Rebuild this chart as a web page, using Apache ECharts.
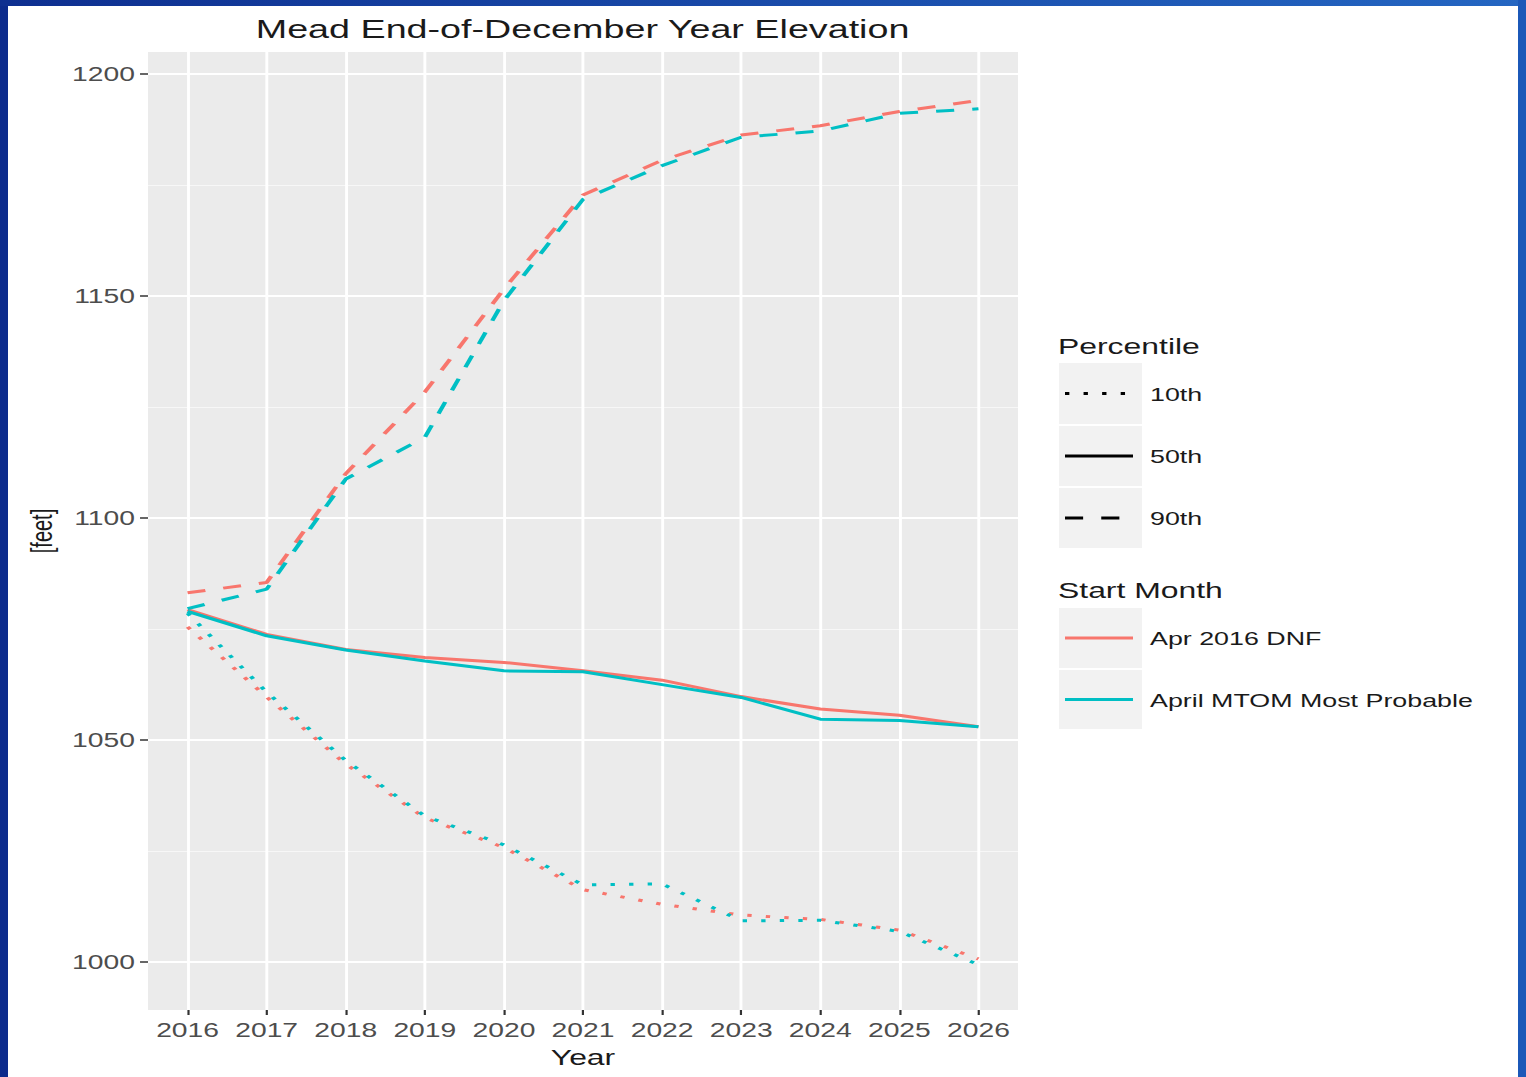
<!DOCTYPE html>
<html><head><meta charset="utf-8">
<script src="https://cdn.jsdelivr.net/npm/echarts@6/dist/echarts.min.js"></script>
<style>
html,body{margin:0;padding:0;width:1526px;height:1077px;overflow:hidden;background:#fff;}
#chart{position:absolute;left:0;top:0;height:1077px;transform-origin:0 0;}
.fr{position:absolute;z-index:5;}
</style></head><body>
<div id="chart"></div>
<div class="fr" style="left:0;top:0;width:8px;height:1077px;background:#0c2b8c"></div>
<div class="fr" style="left:0;top:0;width:1526px;height:6px;background:linear-gradient(90deg,#0e2f90,#2466c2)"></div>
<div class="fr" style="right:0;top:0;width:8px;height:1077px;background:#1b58b8"></div>
<script>
// ---------- data ----------
const titleText = 'Mead End-of-December Year Elevation';
const years = [2016, 2017, 2018, 2019, 2020, 2021, 2022, 2023, 2024, 2025, 2026];
const yTicks = [1000, 1050, 1100, 1150, 1200];
const yMinorTicks = [1025, 1075, 1125, 1175];
const percentileLabels = ['10th', '50th', '90th'];
const startMonths = ['Apr 2016 DNF', 'April MTOM Most Probable'];

const dnf10  = [1075.5, 1059.7, 1044.6, 1032.5, 1025.8, 1016.3, 1013.0, 1010.6, 1009.6, 1007.2, 1000.7];
const mtom10 = [1078.6, 1060.8, 1045.4, 1032.9, 1026.4, 1017.4, 1017.6, 1009.3, 1009.4, 1006.9, 999.4];
const dnf50  = [1079.4, 1073.8, 1070.4, 1068.6, 1067.5, 1065.6, 1063.5, 1059.8, 1057.0, 1055.6, 1053.0];
const mtom50 = [1079.0, 1073.5, 1070.3, 1067.8, 1065.6, 1065.4, 1062.5, 1059.6, 1054.7, 1054.4, 1053.0];
const dnf90  = [1083.2, 1085.5, 1110.0, 1128.4, 1151.6, 1172.8, 1180.6, 1186.3, 1188.4, 1191.6, 1194.1];
const mtom90 = [1079.6, 1084.0, 1108.8, 1118.2, 1149.0, 1171.8, 1179.4, 1185.8, 1187.2, 1191.2, 1192.2];

// ---------- layout (reference image is stretched horizontally) ----------
const S = 1.45;
const W = 1526 / S;
const X = v => v / S;
const FONT = "'Liberation Sans', Arial, sans-serif";
const RED = '#F8766D', CYAN = '#00BFC4';
const el = document.getElementById('chart');
el.style.width = W + 'px';
el.style.transform = 'scaleX(' + S + ')';
const chart = echarts.init(el, null, {renderer: 'svg', width: W, height: 1077});

const pair = arr => years.map((y, i) => [y, arr[i]]);
const dashT = [12.5, 12.5];
const dotT = [3, 9.8];

function mk(name, arr, color, type) {
  return {
    name: name, type: 'line', data: pair(arr), symbol: 'none', smooth: false,
    xAxisIndex: 0, yAxisIndex: 0,
    lineStyle: {color: color, width: 3, type: type, cap: 'butt'},
    emphasis: {disabled: true}, silent: true
  };
}

// title width measure
const TITLE_SIZE = 26;
const cv = document.createElement('canvas').getContext('2d');
cv.font = TITLE_SIZE + 'px ' + FONT;
const tw = cv.measureText(titleText).width;

const gridL = X(148), gridR = X(1018);
const tickCol = '#333333', labCol = '#4D4D4D', txtCol = '#1A1A1A';

// legend graphics
const g = [];
const boxL = X(1059), boxW = X(1142) - X(1059);
const lineL = X(1065), lineR = X(1133), labX = X(1150);
const LAB_FONT = '18.5px ' + FONT;
g.push({type: 'text', x: X(1058), y: 346, style: {text: 'Percentile', font: '22px ' + FONT, fill: txtCol, textVerticalAlign: 'middle'}});
const pBoxes = [[363, 61], [426, 60], [488, 60]];
const pTypes = [dotT, 'solid', dashT];
percentileLabels.forEach((lab, i) => {
  const [by, bh] = pBoxes[i];
  const cy = by + bh / 2;
  g.push({type: 'rect', shape: {x: boxL, y: by, width: boxW, height: bh}, style: {fill: '#F2F2F2'}});
  g.push({type: 'line', shape: {x1: lineL, y1: cy, x2: lineR, y2: cy},
    style: {stroke: '#000', lineWidth: 3, lineDash: pTypes[i] === 'solid' ? null : pTypes[i], lineCap: 'butt'}});
  g.push({type: 'text', x: labX, y: cy + 1, style: {text: lab, font: LAB_FONT, fill: txtCol, textVerticalAlign: 'middle'}});
});
g.push({type: 'text', x: X(1058), y: 590, style: {text: 'Start Month', font: '22px ' + FONT, fill: txtCol, textVerticalAlign: 'middle'}});
const sBoxes = [[608, 60], [670, 59]];
const sCols = [RED, CYAN];
startMonths.forEach((lab, i) => {
  const [by, bh] = sBoxes[i];
  const cy = by + bh / 2;
  g.push({type: 'rect', shape: {x: boxL, y: by, width: boxW, height: bh}, style: {fill: '#F2F2F2'}});
  g.push({type: 'line', shape: {x1: lineL, y1: cy, x2: lineR, y2: cy}, style: {stroke: sCols[i], lineWidth: 3}});
  g.push({type: 'text', x: labX, y: cy + 1, style: {text: lab, font: LAB_FONT, fill: txtCol, textVerticalAlign: 'middle'}});
});

const option = {
  animation: false,
  backgroundColor: 'transparent',
  textStyle: {fontFamily: FONT},
  title: {
    text: titleText, left: X(583) - tw / 2, top: 16, padding: 0,
    textStyle: {fontSize: TITLE_SIZE, fontWeight: 'normal', color: txtCol, fontFamily: FONT}
  },
  grid: {
    left: gridL, top: 52, width: gridR - gridL, height: 958,
    show: true, backgroundColor: '#EBEBEB', borderWidth: 0, containLabel: false
  },
  xAxis: [{
    type: 'value', min: 2015.5, max: 2026.5,
    name: 'Year', nameLocation: 'middle', nameGap: 36,
    nameTextStyle: {fontSize: 22, color: txtCol, fontFamily: FONT},
    axisLine: {show: false},
    axisTick: {show: true, customValues: years, length: 5, lineStyle: {color: tickCol, width: 1.5}},
    axisLabel: {customValues: years, formatter: v => String(v), fontSize: 19.5, color: labCol, margin: 10, fontFamily: FONT},
    splitLine: {show: true, lineStyle: {color: '#FFFFFF', width: 2}}
  }],
  yAxis: [{
    type: 'value', min: 989.2, max: 1205,
    name: '[feet]', nameLocation: 'middle', nameRotate: 90, nameGap: 52,
    nameTextStyle: {fontSize: 20, color: txtCol, fontFamily: FONT},
    axisLine: {show: false},
    axisTick: {show: true, customValues: yTicks, length: 5.5, lineStyle: {color: tickCol, width: 1.5}},
    axisLabel: {customValues: yTicks, formatter: v => String(v), fontSize: 19.5, color: labCol, margin: 9, fontFamily: FONT},
    splitLine: {show: true, lineStyle: {color: '#FFFFFF', width: 2}}
  }, {
    type: 'value', min: 989.2, max: 1205, position: 'left',
    axisLine: {show: false},
    axisTick: {show: false, customValues: yMinorTicks},
    axisLabel: {show: false, customValues: yMinorTicks},
    splitLine: {show: true, lineStyle: {color: '#F7F7F7', width: 1}}
  }],
  graphic: g,
  series: [
    mk(startMonths[0] + ' 10th', dnf10, RED, dotT),
    mk(startMonths[0] + ' 50th', dnf50, RED, 'solid'),
    mk(startMonths[0] + ' 90th', dnf90, RED, dashT),
    mk(startMonths[1] + ' 10th', mtom10, CYAN, dotT),
    mk(startMonths[1] + ' 50th', mtom50, CYAN, 'solid'),
    mk(startMonths[1] + ' 90th', mtom90, CYAN, dashT)
  ]
};
chart.setOption(option);
</script>
</body></html>
